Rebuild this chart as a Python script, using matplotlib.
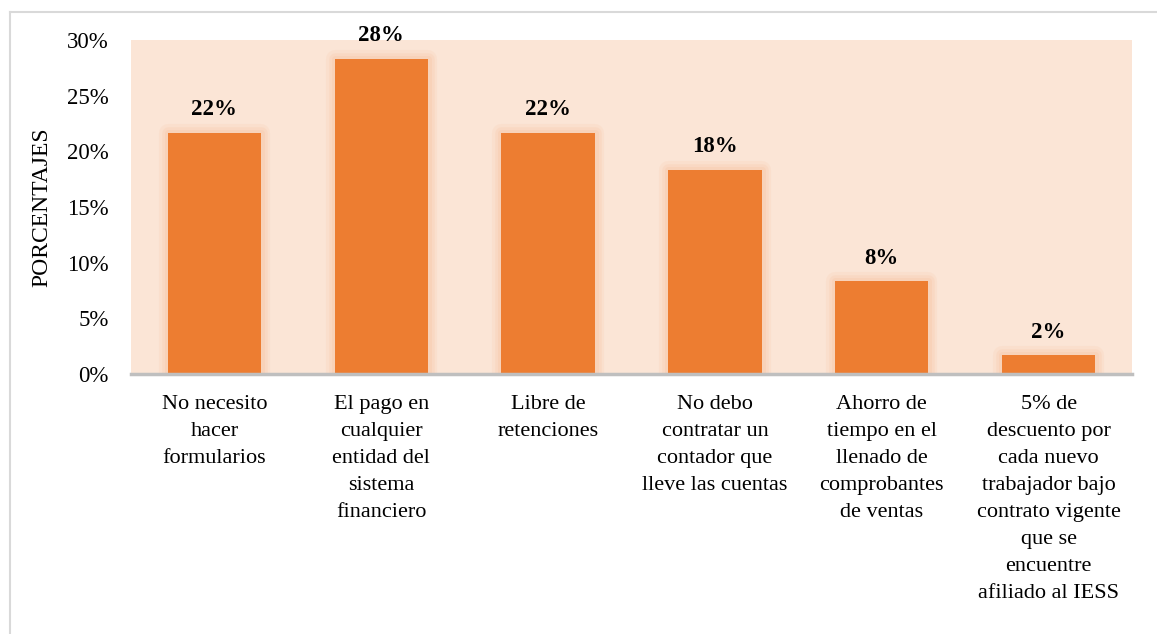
import matplotlib.pyplot as plt
from matplotlib.lines import Line2D

# datos (porcentajes de encuestados)
categorias = [
    "No necesito\nhacer\nformularios",
    "El pago en\ncualquier\nentidad del\nsistema\nfinanciero",
    "Libre de\nretenciones",
    "No debo\ncontratar un\ncontador que\nlleve las cuentas",
    "Ahorro de\ntiempo en el\nllenado de\ncomprobantes\nde ventas",
    "5% de\ndescuento por\ncada nuevo\ntrabajador bajo\ncontrato vigente\nque se\nencuentre\nafiliado al IESS",
]
valores = [21.67, 28.33, 21.67, 18.33, 8.33, 1.67]
yticks = [0, 5, 10, 15, 20, 25, 30]

plt.rcParams["font.family"] = ["Liberation Serif", "DejaVu Serif"]

fig = plt.figure(figsize=(11.57, 6.34), dpi=100)
ax = fig.add_axes([0.1132, 0.4101, 0.8652, 0.5268])
ax.set_facecolor("#FBE5D6")

x = list(range(len(valores)))
ancho = 0.56

# efecto de resplandor alrededor de las barras
for lw, a in [(13, 0.2), (9, 0.3), (5, 0.45)]:
    ax.bar(x, valores, ancho, color="none", edgecolor="#F8CBAD",
           linewidth=lw, alpha=a, joinstyle="round", zorder=2)
ax.bar(x, valores, ancho, color="#ED7D31", zorder=3)

for xi, v in zip(x, valores):
    ax.annotate(f"{v:.0f}%", (xi, v), xytext=(0, 9), textcoords="offset points",
                ha="center", va="bottom", fontsize=16.5, fontweight="bold")

ax.set_xlim(-0.5, len(valores) - 0.5)
ax.set_ylim(0, 30)
ax.set_yticks(yticks)
ax.set_yticklabels([f"{t}%" for t in yticks], fontsize=16.5)
ax.set_xticks(x)
ax.set_xticklabels(categorias, fontsize=16, linespacing=1.57)
ax.tick_params(axis="both", length=0)
ax.tick_params(axis="y", pad=16)
ax.tick_params(axis="x", pad=15)

for s in ["top", "right", "left"]:
    ax.spines[s].set_visible(False)
ax.spines["bottom"].set_color("#BFBFBF")
ax.spines["bottom"].set_linewidth(2.5)
ax.spines["bottom"].set_zorder(4)

ax.set_ylabel("PORCENTAJES", fontsize=17)
ax.yaxis.set_label_coords(-0.079, 0.5)

# borde del gráfico
fig.add_artist(Line2D([10 / 1157, 1], [1 - 12 / 634, 1 - 12 / 634],
                      transform=fig.transFigure, color="#D9D9D9", linewidth=1.5))
fig.add_artist(Line2D([10 / 1157, 10 / 1157], [0, 1 - 12 / 634],
                      transform=fig.transFigure, color="#D9D9D9", linewidth=1.5))

fig.savefig("out.png", dpi=100)
